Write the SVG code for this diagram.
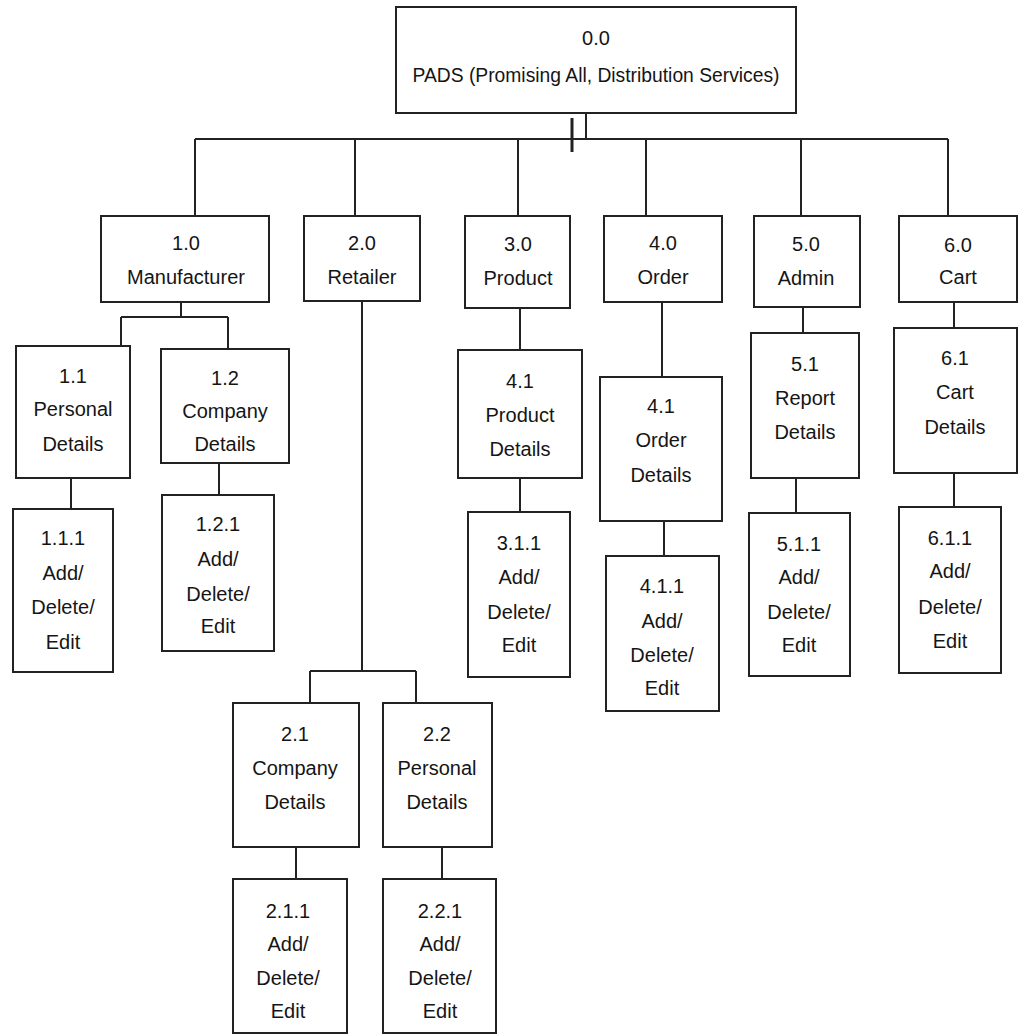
<svg xmlns="http://www.w3.org/2000/svg" width="1021" height="1034" viewBox="0 0 1021 1034">
<style>
.box{fill:#fff;stroke:#222;stroke-width:2}
.ln{fill:none;stroke:#222;stroke-width:2}
text{font-family:"Liberation Sans",Arial,sans-serif;font-size:20px;fill:#151515;text-anchor:middle}
</style>
<rect width="1021" height="1034" fill="#fff"/>
<g id="connectors" class="ln">
<path d="M586 113V139M195 139H948M195 139V216M355 139V216M518 139V216M646 139V216M801 139V216M948 139V216"/>
<path d="M572 118V152" stroke-width="3"/>
<path d="M181 302V317M121 317H228M121 317V346M228 317V349M71 478V509M219 463V495"/>
<path d="M362 301V671M310 671H416M310 671V703M416 671V703M296 847V879M442 847V879"/>
<path d="M520 308V350M520 478V512M662 302V377M664 521V556"/>
<path d="M803 307V333M796 478V513M954 302V328M954 473V507"/>
</g>
<g id="n0"><rect class="box" x="396" y="7" width="400" height="106"/><text x="596" y="45">0.0</text><text x="596" y="82" textLength="367" lengthAdjust="spacingAndGlyphs">PADS (Promising All, Distribution Services)</text></g>
<g id="n1"><rect class="box" x="101" y="216" width="168" height="86"/><text x="186" y="250">1.0</text><text x="186" y="284">Manufacturer</text></g>
<g id="n2"><rect class="box" x="304" y="216" width="116" height="85"/><text x="362" y="250">2.0</text><text x="362" y="284">Retailer</text></g>
<g id="n3"><rect class="box" x="465" y="216" width="105" height="92"/><text x="518" y="251">3.0</text><text x="518" y="285">Product</text></g>
<g id="n4"><rect class="box" x="604" y="216" width="118" height="86"/><text x="663" y="250">4.0</text><text x="663" y="284">Order</text></g>
<g id="n5"><rect class="box" x="754" y="216" width="106" height="91"/><text x="806" y="251">5.0</text><text x="806" y="285">Admin</text></g>
<g id="n6"><rect class="box" x="899" y="216" width="118" height="86"/><text x="958" y="252">6.0</text><text x="958" y="284">Cart</text></g>
<g id="n1_1"><rect class="box" x="16" y="346" width="114" height="132"/><text x="73" y="383">1.1</text><text x="73" y="416">Personal</text><text x="73" y="451">Details</text></g>
<g id="n1_2"><rect class="box" x="161" y="349" width="128" height="114"/><text x="225" y="385">1.2</text><text x="225" y="418">Company</text><text x="225" y="451">Details</text></g>
<g id="n1_1_1"><rect class="box" x="13" y="509" width="100" height="163"/><text x="63" y="545">1.1.1</text><text x="63" y="580">Add/</text><text x="63" y="614">Delete/</text><text x="63" y="649">Edit</text></g>
<g id="n1_2_1"><rect class="box" x="162" y="495" width="112" height="156"/><text x="218" y="531">1.2.1</text><text x="218" y="566">Add/</text><text x="218" y="601">Delete/</text><text x="218" y="633">Edit</text></g>
<g id="n3_1"><rect class="box" x="458" y="350" width="124" height="128"/><text x="520" y="388">4.1</text><text x="520" y="422">Product</text><text x="520" y="456">Details</text></g>
<g id="n3_1_1"><rect class="box" x="468" y="512" width="102" height="165"/><text x="519" y="550">3.1.1</text><text x="519" y="584">Add/</text><text x="519" y="619">Delete/</text><text x="519" y="652">Edit</text></g>
<g id="n4_1"><rect class="box" x="600" y="377" width="122" height="144"/><text x="661" y="413">4.1</text><text x="661" y="447">Order</text><text x="661" y="482">Details</text></g>
<g id="n4_1_1"><rect class="box" x="606" y="556" width="113" height="155"/><text x="662" y="593">4.1.1</text><text x="662" y="628">Add/</text><text x="662" y="662">Delete/</text><text x="662" y="695">Edit</text></g>
<g id="n5_1"><rect class="box" x="751" y="333" width="108" height="145"/><text x="805" y="371">5.1</text><text x="805" y="405">Report</text><text x="805" y="439">Details</text></g>
<g id="n5_1_1"><rect class="box" x="749" y="513" width="101" height="163"/><text x="799" y="551">5.1.1</text><text x="799" y="584">Add/</text><text x="799" y="619">Delete/</text><text x="799" y="652">Edit</text></g>
<g id="n6_1"><rect class="box" x="894" y="328" width="123" height="145"/><text x="955" y="365">6.1</text><text x="955" y="399">Cart</text><text x="955" y="434">Details</text></g>
<g id="n6_1_1"><rect class="box" x="899" y="507" width="102" height="166"/><text x="950" y="545">6.1.1</text><text x="950" y="578">Add/</text><text x="950" y="614">Delete/</text><text x="950" y="648">Edit</text></g>
<g id="n2_1"><rect class="box" x="233" y="703" width="126" height="144"/><text x="295" y="741">2.1</text><text x="295" y="775">Company</text><text x="295" y="809">Details</text></g>
<g id="n2_2"><rect class="box" x="383" y="703" width="109" height="144"/><text x="437" y="741">2.2</text><text x="437" y="775">Personal</text><text x="437" y="809">Details</text></g>
<g id="n2_1_1"><rect class="box" x="233" y="879" width="114" height="154"/><text x="288" y="918">2.1.1</text><text x="288" y="951">Add/</text><text x="288" y="985">Delete/</text><text x="288" y="1018">Edit</text></g>
<g id="n2_2_1"><rect class="box" x="383" y="879" width="113" height="154"/><text x="440" y="918">2.2.1</text><text x="440" y="951">Add/</text><text x="440" y="985">Delete/</text><text x="440" y="1018">Edit</text></g>
</svg>
